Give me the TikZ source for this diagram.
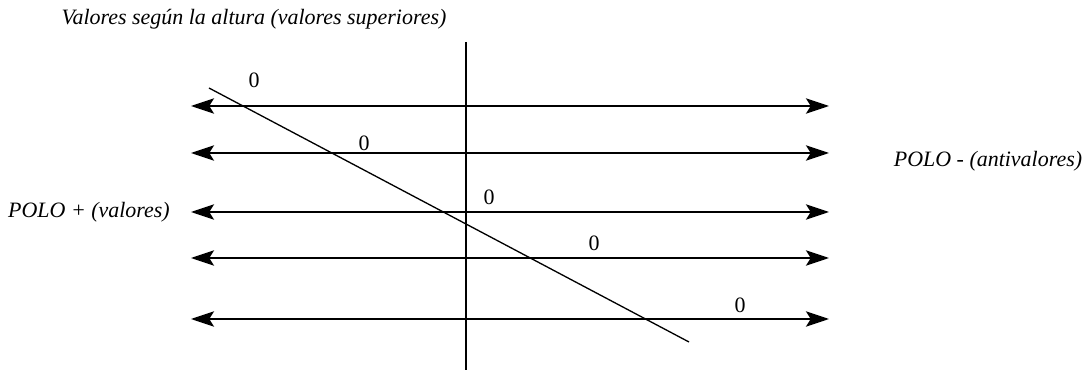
\documentclass[tikz,border=0pt]{standalone}
\usepackage{fontspec}
\setmainfont{Liberation Serif}
\usetikzlibrary{arrows.meta,positioning}

\begin{document}
\begin{tikzpicture}[
x=0.016cm, y=-0.016cm,
every node/.style={font=\itshape, inner sep=0pt},
linea/.style={line width=0.6pt},
flecha/.style={{Stealth[length=10.5pt,width=7pt,inset=2.2pt]}-{Stealth[length=10.5pt,width=7pt,inset=2.2pt]}, line width=0.75pt},
cero/.style={font=\upshape}
]
\useasboundingbox (0,0) rectangle (1087,372);

% Textos
\node (titulo) at (254,19) {Valores según la altura (valores superiores)};
\node (polomas) at (89,212) {POLO + (valores)};
\node (polomenos) at (988,161) {POLO - (antivalores)};

% Eje vertical
\coordinate (ejearriba) at (466,42);
\coordinate (ejeabajo) at (466,370);
\draw[linea] (ejearriba) -- (ejeabajo);

% Flechas horizontales
\coordinate (izq1) at (191,106); \coordinate (der1) at (829,106);
\coordinate (izq2) at (191,153); \coordinate (der2) at (829,153);
\coordinate (izq3) at (191,212); \coordinate (der3) at (829,212);
\coordinate (izq4) at (191,258); \coordinate (der4) at (829,258);
\coordinate (izq5) at (191,319); \coordinate (der5) at (829,319);
\draw[flecha] (izq1) -- (der1);
\draw[flecha] (izq2) -- (der2);
\draw[flecha] (izq3) -- (der3);
\draw[flecha] (izq4) -- (der4);
\draw[flecha] (izq5) -- (der5);

% Diagonal
\coordinate (diagini) at (209,88);
\coordinate (diagfin) at (689,342);
\draw[linea] (diagini) -- (diagfin);

% Ceros
\node[cero] (cero1) at (254,80) {0};
\node[cero] (cero2) at (364,143) {0};
\node[cero] (cero3) at (489,197) {0};
\node[cero] (cero4) at (594,243) {0};
\node[cero] (cero5) at (740,305) {0};

\end{tikzpicture}
\end{document}
